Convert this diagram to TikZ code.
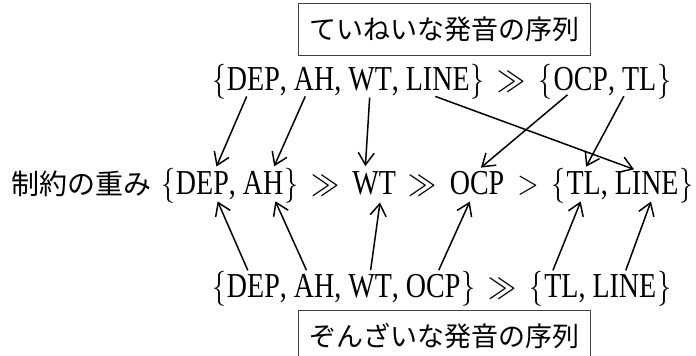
\documentclass[tikz,border=0pt]{standalone}
\usepackage{fontspec}
\setmainfont{Liberation Serif}[FakeStretch=0.8]
\newfontfamily\jpfont{Noto Sans CJK JP}
\usepackage{graphicx}
\usetikzlibrary{positioning,arrows.meta}

% math symbols set at 24.88pt and scaled to sit with the condensed 35pt text
\newcommand\mathsym[1]{\scalebox{1.125}[1.407]{\fontsize{24.88pt}{28pt}\selectfont$#1$}}
\newcommand\lbr{\mathsym{\{}}
\newcommand\rbr{\mathsym{\}}}
\newcommand\ggrel{\mathsym{\gg}}
\newcommand\gtrel{\mathsym{>}}

\tikzset{
  term/.style={inner sep=0pt, outer sep=0pt, anchor=base west,
    font=\fontsize{35pt}{40pt}\selectfont},
  jplabel/.style={inner sep=0pt, outer sep=0pt,
    font=\fontsize{28pt}{30pt}\jpfont},
  titlebox/.style={draw=black!75, line width=0.9pt, minimum width=292pt,
    minimum height=52pt, inner sep=0pt, font=\fontsize{27pt}{30pt}\jpfont},
  link/.style={-{Straight Barb[length=12pt,width=16pt]}, line width=1.5pt},
  down/.style={link, shorten <=7pt, shorten >=5pt},
  up/.style={link, shorten <=4pt, shorten >=8pt},
}

\begin{document}
\begin{tikzpicture}[x=1pt,y=-1pt]
\useasboundingbox (0,0) rectangle (696,356);

% the two boxed headings
\node[titlebox] (polite) at (444,29) {ていねいな発音の序列};
\node[titlebox] (casual) at (444,336) {ぞんざいな発音の序列};

% upper ranking
\node[term] (t-lb) at (212,90) {\lbr};
\node[term, base right=1pt of t-lb] (t-dep) {DEP};
\node[term, base right=0pt of t-dep] (t-c1) {,};
\node[term, base right=7pt of t-c1] (t-ah) {AH};
\node[term, base right=0pt of t-ah] (t-c2) {,};
\node[term, base right=7pt of t-c2] (t-wt) {WT};
\node[term, base right=0pt of t-wt] (t-c3) {,};
\node[term, base right=7pt of t-c3] (t-line) {LINE};
\node[term, base right=1pt of t-line] (t-rb) {\rbr};
\node[term, base right=13pt of t-rb] (t-gg) {\ggrel};
\node[term, base right=13pt of t-gg] (t-lb2) {\lbr};
\node[term, base right=1pt of t-lb2] (t-ocp) {OCP};
\node[term, base right=0pt of t-ocp] (t-c4) {,};
\node[term, base right=7pt of t-c4] (t-tl) {TL};
\node[term, base right=1pt of t-tl] (t-rb2) {\rbr};

% constraint weights
\node[term] (m-lb) at (161,194) {\lbr};
\node[jplabel, anchor=base east] (m-name) at ([xshift=-10pt]m-lb.base west) {制約の重み};
\node[term, base right=1pt of m-lb] (m-dep) {DEP};
\node[term, base right=0pt of m-dep] (m-c1) {,};
\node[term, base right=7pt of m-c1] (m-ah) {AH};
\node[term, base right=1pt of m-ah] (m-rb) {\rbr};
\node[term, base right=13pt of m-rb] (m-gg1) {\ggrel};
\node[term, base right=13pt of m-gg1] (m-wt) {WT};
\node[term, base right=13pt of m-wt] (m-gg2) {\ggrel};
\node[term, base right=13pt of m-gg2] (m-ocp) {OCP};
\node[term, base right=13pt of m-ocp] (m-gt) {\gtrel};
\node[term, base right=13pt of m-gt] (m-lb2) {\lbr};
\node[term, base right=1pt of m-lb2] (m-tl) {TL};
\node[term, base right=0pt of m-tl] (m-c2) {,};
\node[term, base right=7pt of m-c2] (m-line) {LINE};
\node[term, base right=1pt of m-line] (m-rb2) {\rbr};

% lower ranking
\node[term] (b-lb) at (212,297) {\lbr};
\node[term, base right=1pt of b-lb] (b-dep) {DEP};
\node[term, base right=0pt of b-dep] (b-c1) {,};
\node[term, base right=7pt of b-c1] (b-ah) {AH};
\node[term, base right=0pt of b-ah] (b-c2) {,};
\node[term, base right=7pt of b-c2] (b-wt) {WT};
\node[term, base right=0pt of b-wt] (b-c3) {,};
\node[term, base right=7pt of b-c3] (b-ocp) {OCP};
\node[term, base right=1pt of b-ocp] (b-rb) {\rbr};
\node[term, base right=13pt of b-rb] (b-gg) {\ggrel};
\node[term, base right=13pt of b-gg] (b-lb2) {\lbr};
\node[term, base right=1pt of b-lb2] (b-tl) {TL};
\node[term, base right=0pt of b-tl] (b-c4) {,};
\node[term, base right=7pt of b-c4] (b-line) {LINE};
\node[term, base right=1pt of b-line] (b-rb2) {\rbr};

% from the upper ranking down to the weights
\draw[down] ([xshift=-4pt]t-dep.south) -- ([xshift=12pt]m-dep.north);
\draw[down] ([xshift=-6pt]t-ah.south) -- ([xshift=9pt]m-ah.north);
\draw[down] (t-wt.south) -- ([xshift=-9pt]m-wt.north);
\draw[down] ([xshift=-9pt,yshift=-4pt]t-line.south) -- ([xshift=-8pt]m-line.north);
\draw[down] ([xshift=-8pt]t-ocp.south) -- (m-ocp.north);
\draw[down] ([xshift=-12pt]t-tl.south) -- (m-tl.north);

% from the lower ranking up to the weights
\draw[up] ([xshift=-4pt]b-dep.north) -- ([xshift=12pt]m-dep.south);
\draw[up] ([xshift=-6pt]b-ah.north) -- ([xshift=9pt]m-ah.south);
\draw[up] (b-wt.north) -- ([xshift=7pt]m-wt.south);
\draw[up] ([xshift=4pt]b-ocp.north) -- ([xshift=-4pt]m-ocp.south);
\draw[up] ([xshift=-10pt]b-tl.north) -- (m-tl.south);
\draw[up] (b-line.north) -- ([xshift=7pt]m-line.south);
\end{tikzpicture}
\end{document}
